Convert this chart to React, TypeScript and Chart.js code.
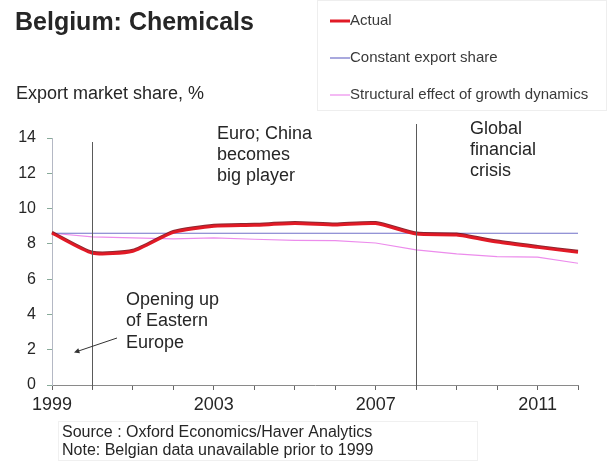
import React, { useEffect, useRef } from 'react';
import { Chart, registerables } from 'chart.js';

Chart.register(...registerables);

const years = ['1999', '2000', '2001', '2002', '2003', '2004', '2005', '2006', '2007', '2008', '2009', '2010', '2011', '2012'];
const labelledYears = ['1999', '2003', '2007', '2011'];
const actual = [8.6, 7.47, 7.58, 8.65, 9.0, 9.05, 9.15, 9.07, 9.15, 8.56, 8.5, 8.1, 7.8, 7.52];
const constantShare = [8.6, 8.6, 8.6, 8.6, 8.6, 8.6, 8.6, 8.6, 8.6, 8.6, 8.6, 8.6, 8.6, 8.6];
const structural = [8.6, 8.4, 8.34, 8.28, 8.34, 8.26, 8.2, 8.18, 8.05, 7.66, 7.43, 7.28, 7.25, 6.9];
const seriesNames = ['Actual', 'Constant export share', 'Structural effect of growth dynamics'];
const seriesColors = ['#e11a26', '#7070c8', '#ec8cec'];
const eventYears = ['2000', '2008'];

const FONT = '"Liberation Sans", Arial, sans-serif';
const TEXT = '#262626';

const redShadow = {
  id: 'redShadow',
  beforeDatasetDraw(chart: any, args: any) {
    if (args.index !== 0) return;
    const ctx = chart.ctx as CanvasRenderingContext2D;
    ctx.save();
    ctx.shadowColor = 'rgba(120,0,10,0.85)';
    ctx.shadowOffsetX = 0;
    ctx.shadowOffsetY = -1;
    ctx.shadowBlur = 0;
  },
  afterDatasetDraw(chart: any, args: any) {
    if (args.index !== 0) return;
    chart.ctx.restore();
  },
};

const overlay = {
  id: 'overlay',
  afterDatasetsDraw(chart: any) {
    const ctx = chart.ctx as CanvasRenderingContext2D;
    const x = chart.scales.x;
    const area = chart.chartArea;
    ctx.save();
    ctx.strokeStyle = '#5a5a5a';
    ctx.lineWidth = 1;
    const tops = [142, 124];
    eventYears.forEach((yr, i) => {
      const px = Math.round(x.getPixelForValue(years.indexOf(yr))) + 0.5;
      ctx.beginPath();
      ctx.moveTo(px, tops[i]);
      ctx.lineTo(px, area.bottom + 4);
      ctx.stroke();
    });
    ctx.restore();
  },
  afterDraw(chart: any) {
    const ctx = chart.ctx as CanvasRenderingContext2D;
    ctx.save();
    ctx.fillStyle = TEXT;
    ctx.textBaseline = 'middle';
    ctx.textAlign = 'left';
    // title
    ctx.font = `bold 25px ${FONT}`;
    ctx.fillText('Belgium: Chemicals', 15, 23);
    ctx.font = `18px ${FONT}`;
    ctx.fillText('Export market share, %', 16, 94);

    // legend
    ctx.strokeStyle = '#eeeeee';
    ctx.lineWidth = 1;
    ctx.strokeRect(317.5, 0.5, 289, 110);
    const ly = [21, 58, 95];
    ctx.font = `15px ${FONT}`;
    seriesNames.forEach((n, i) => {
      ctx.strokeStyle = seriesColors[i];
      ctx.lineWidth = i === 0 ? 3 : 1.2;
      ctx.beginPath();
      ctx.moveTo(330, ly[i]);
      ctx.lineTo(350, ly[i]);
      ctx.stroke();
      ctx.fillStyle = '#3a3a3a';
      ctx.fillText(n, 350, ly[i]);
    });

    // annotations
    ctx.fillStyle = TEXT;
    ctx.font = `18px ${FONT}`;
    ['Euro; China', 'becomes', 'big player'].forEach((t, i) => ctx.fillText(t, 217, 134 + i * 21));
    ['Global', 'financial', 'crisis'].forEach((t, i) => ctx.fillText(t, 470, 129 + i * 21));
    ['Opening up', 'of Eastern', 'Europe'].forEach((t, i) => ctx.fillText(t, 126, 300 + i * 21.5));

    // arrow
    ctx.strokeStyle = '#333';
    ctx.lineWidth = 1;
    ctx.beginPath();
    ctx.moveTo(117, 338);
    ctx.lineTo(77, 351.5);
    ctx.stroke();
    const hx = 74, hy = 352.5;
    const ang = Math.atan2(hy - 338, hx - 117);
    ctx.beginPath();
    ctx.moveTo(hx, hy);
    ctx.lineTo(hx - 6 * Math.cos(ang - 0.45), hy - 6 * Math.sin(ang - 0.45));
    ctx.lineTo(hx - 6 * Math.cos(ang + 0.45), hy - 6 * Math.sin(ang + 0.45));
    ctx.closePath();
    ctx.fillStyle = '#333';
    ctx.fill();

    // source
    ctx.strokeStyle = '#f0f0f0';
    ctx.strokeRect(58.5, 421.5, 419, 39);
    ctx.fillStyle = TEXT;
    ctx.font = `16px ${FONT}`;
    ctx.fillText('Source : Oxford Economics/Haver Analytics', 62, 433);
    ctx.fillText('Note: Belgian data unavailable prior to 1999', 62, 451);
    ctx.restore();
  },
};

export default function App() {
  const ref = useRef<HTMLCanvasElement>(null);
  useEffect(() => {
    if (!ref.current) return;
    const chart = new Chart(ref.current, {
      type: 'line',
      data: {
        labels: years,
        datasets: [
          { label: seriesNames[0], data: actual, borderColor: seriesColors[0], borderWidth: 3, tension: 0.2, pointRadius: 0, order: 0 },
          { label: seriesNames[1], data: constantShare, borderColor: seriesColors[1], borderWidth: 1.2, tension: 0, pointRadius: 0, order: 1 },
          { label: seriesNames[2], data: structural, borderColor: seriesColors[2], borderWidth: 1.2, tension: 0, pointRadius: 0, order: 2 },
        ],
      },
      options: {
        responsive: false,
        animation: false,
        events: [],
        layout: { padding: { top: 138, right: 35, left: 0, bottom: 0 } },
        plugins: { legend: { display: false }, tooltip: { enabled: false }, title: { display: false } },
        scales: {
          x: {
            type: 'category',
            offset: false,
            grid: { display: true, drawOnChartArea: false, drawTicks: true, tickLength: 5, color: '#666' },
            border: { display: true, color: '#8a8a8a', width: 1 },
            ticks: {
              autoSkip: false,
              maxRotation: 0,
              padding: 4,
              color: TEXT,
              font: { family: FONT, size: 18 },
              callback: (_v: any, i: number) => (labelledYears.includes(years[i]) ? years[i] : ''),
            },
            afterFit: (s: any) => { s.height = 77; },
          },
          y: {
            min: 0,
            max: 14,
            grid: { display: true, drawOnChartArea: false, drawTicks: true, tickLength: 5, color: '#8a9' },
            border: { display: true, color: '#b4b8c4', width: 1 },
            ticks: { stepSize: 2, padding: 11, color: TEXT, font: { family: FONT, size: 16 } },
            afterFit: (s: any) => { s.width = 52; },
          },
        },
      },
      plugins: [redShadow, overlay],
    });
    return () => chart.destroy();
  }, []);
  return (
    <div style={{ position: 'absolute', left: 0, top: 0, width: 613, height: 462, background: '#fff' }}>
      <canvas ref={ref} width={613} height={462} />
    </div>
  );
}
